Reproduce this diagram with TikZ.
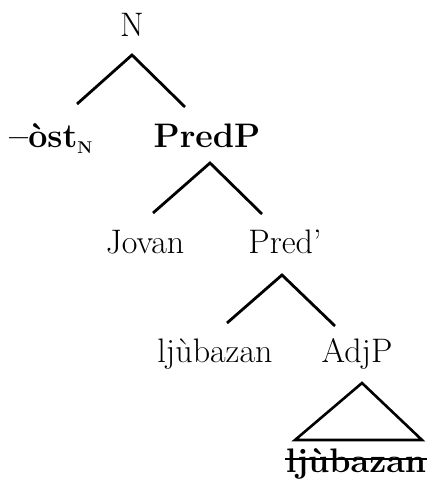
\documentclass[tikz,border=0pt]{standalone}
\begin{document}
\begin{tikzpicture}[x=1pt,y=-1pt,
  lbl/.style={anchor=base,inner sep=0pt,font=\fontsize{34}{40}\selectfont},
  branch/.style={line width=2.8pt},
  tri/.style={line width=2.6pt,line join=miter}]
\useasboundingbox (0,0) rectangle (430,484);
% labels
\node[lbl] (N) at (132,37) {N};
\node[lbl,anchor=base west] (ost) at (9,147) {\textbf{--\`ost}\raisebox{-6pt}{\fontsize{17}{17}\selectfont\textbf{N}}};
\node[lbl] (PredP) at (207,147) {\textbf{PredP}};
\node[lbl] (Jovan) at (145,253) {Jovan};
\node[lbl] (Predbar) at (285,253) {Pred'};
\node[lbl] (lju) at (215,362) {lj\`ubazan};
\node[lbl] (AdjP) at (357,362) {AdjP};
\node[lbl] (struck) at (356,472) {\textbf{lj\`ubazan}};
% branch points
\coordinate (Na) at (132,55);
\coordinate (ostT) at (77,104);
\coordinate (PredPT) at (185,107);
\coordinate (PredPa) at (210,163);
\coordinate (JovanT) at (153,213);
\coordinate (PredbarT) at (262,214);
\coordinate (Predbara) at (282,275);
\coordinate (ljuT) at (227,323);
\coordinate (AdjPT) at (335,326);
\coordinate (AdjPa) at (362,383);
\coordinate (triL) at (295,440);
\coordinate (triR) at (422,440);
\coordinate (sL) at (285,459);
\coordinate (sR) at (427,459);
% connectors
\draw[branch] (ostT) -- (Na) -- (PredPT);
\draw[branch] (JovanT) -- (PredPa) -- (PredbarT);
\draw[branch] (ljuT) -- (Predbara) -- (AdjPT);
\draw[tri] (AdjPa) -- (triL) -- (triR) -- cycle;
\draw[line width=2pt] (sL) -- (sR);
\end{tikzpicture}
\end{document}
